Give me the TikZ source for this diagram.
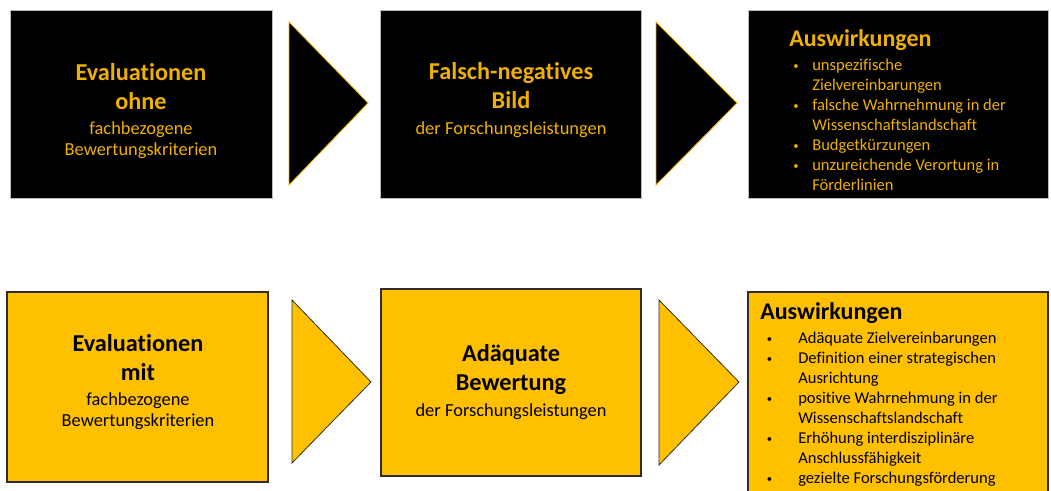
\documentclass[tikz,border=0pt]{standalone}
\usepackage{fontspec}
\setmainfont{Carlito}[Ligatures=NoCommon]
\usetikzlibrary{positioning}
\definecolor{evAmber}{HTML}{FFC000}
\definecolor{evGold}{HTML}{F0B000}
\definecolor{evEdge}{HTML}{2E2E2E}
\newcommand{\evtitle}{\bfseries\fontsize{18.2}{21.75}\selectfont}
\newcommand{\evbody}{\mdseries\fontsize{13.8}{15.75}\selectfont}
\newcommand{\evhead}{\bfseries\fontsize{18}{21}\selectfont}
\newcommand{\evlistfont}{\fontsize{12.4}{15}\selectfont}
\newcommand{\evdot}[1]{\hspace{#1}\makebox[0pt][l]{\raisebox{0.5pt}{\footnotesize\textbullet}}}
\tikzset{
  ev diagram/.style={x=0.75pt, y=-0.75pt, line join=miter},
  ev dark box/.style={fill=black, draw=gray!55, line width=0.5pt, inner sep=0pt},
  ev light box/.style={fill=evAmber, draw=evEdge, line width=0.8pt, inner sep=0pt},
  ev dark tri/.style={fill=black, draw=evGold, line width=0.6pt},
  ev light tri/.style={fill=evAmber, draw=evEdge, line width=0.6pt},
  ev text/.style={text width=190pt, align=center, inner sep=0pt},
  ev list/.style={inner sep=0pt, anchor=north west, font=\evlistfont}
}

\begin{document}
\begin{tikzpicture}[ev diagram]
\useasboundingbox (0,0) rectangle (1051,491);

% upper row: ohne
\node[ev dark box, minimum width=196.5pt, minimum height=141pt] (b1) at (141,104) {};
\node[ev dark box, minimum width=195.75pt, minimum height=141pt] (b2) at (510.5,104) {};
\node[ev dark box, minimum width=225pt, minimum height=141pt] (b3) at (898,104) {};
\draw[ev dark tri] (289,22) -- (368,103) -- (289,185) -- cycle;
\draw[ev dark tri] (656,22) -- (737,103) -- (656,185) -- cycle;

\node[ev text, text=evGold] (t1) at (141,111)
  {\evtitle Evaluationen\par ohne\par\vskip3.5pt
   \evbody fachbezogene\par Bewertungskriterien\par};
\node[ev text, text=evGold] (t2) at (511,100)
  {\evtitle Falsch-negatives\par Bild\par\vskip3.5pt
   \evbody der Forschungsleistungen\par};
\node[ev list, text=evGold] (l3) at (789,29)
  {\begin{tabular}{@{}l@{}l@{}}
   \multicolumn{2}{@{}l}{\evhead Auswirkungen}\\[3pt]
   \evdot{3pt}\hspace{14.25pt} & unspezifische\\
   & Zielvereinbarungen\\
   \evdot{3pt}\hspace{14.25pt} & falsche Wahrnehmung in der\\
   & Wissenschaftslandschaft\\
   \evdot{3pt}\hspace{14.25pt} & Budgetkürzungen\\
   \evdot{3pt}\hspace{14.25pt} & unzureichende Verortung in\\
   & Förderlinien
   \end{tabular}};

% lower row: mit
\node[ev light box, minimum width=195.75pt, minimum height=142.5pt] (b4) at (137.5,387) {};
\node[ev light box, minimum width=195pt, minimum height=140.25pt] (b5) at (511,382.5) {};
\node[ev light box, minimum width=225pt, minimum height=156pt] (b6) at (898,396) {};
\draw[ev light tri] (292,300) -- (371,382) -- (292,463) -- cycle;
\draw[ev light tri] (659,300) -- (739,382) -- (659,465) -- cycle;

\node[ev text] (t4) at (138,382)
  {\evtitle Evaluationen\par mit\par\vskip3.5pt
   \evbody fachbezogene\par Bewertungskriterien\par};
\node[ev text] (t5) at (511,382)
  {\evtitle Adäquate\par Bewertung\par\vskip3.5pt
   \evbody der Forschungsleistungen\par};
\node[ev list] (l6) at (760,302)
  {\begin{tabular}{@{}l@{}l@{}}
   \multicolumn{2}{@{}l}{\evhead Auswirkungen}\\[3pt]
   \evdot{5pt}\hspace{23.5pt} & Adäquate Zielvereinbarungen\\
   \evdot{5pt}\hspace{23.5pt} & Definition einer strategischen\\
   & Ausrichtung\\
   \evdot{5pt}\hspace{23.5pt} & positive Wahrnehmung in der\\
   & Wissenschaftslandschaft\\
   \evdot{5pt}\hspace{23.5pt} & Erhöhung interdisziplinäre\\
   & Anschlussfähigkeit\\
   \evdot{5pt}\hspace{23.5pt} & gezielte Forschungsförderung
   \end{tabular}};
\end{tikzpicture}
\end{document}
